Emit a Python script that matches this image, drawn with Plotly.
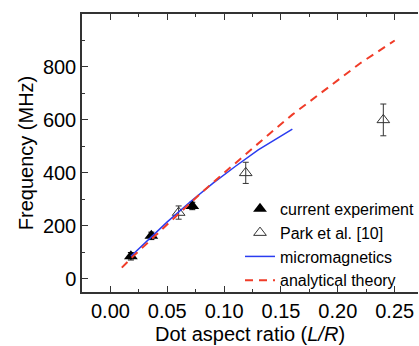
import plotly.graph_objects as go

# data
exp_x = [0.018, 0.036, 0.072]
exp_y = [85, 162, 275]
exp_err = [14, 14, 14]

park_x = [0.060, 0.119, 0.240]
park_y = [250, 400, 600]
park_err = [25, 40, 60]

mm_x = [0.018, 0.03, 0.05, 0.07, 0.09, 0.11, 0.13, 0.16]
mm_y = [85, 135, 215, 290, 360, 425, 487, 565]

th_x = [0.01, 0.02, 0.04, 0.06, 0.08, 0.10, 0.12, 0.14, 0.16, 0.18, 0.20, 0.22, 0.25]
th_y = [42, 85, 165, 245, 325, 400, 475, 548, 620, 685, 750, 815, 900]

xticks = [0.0, 0.05, 0.10, 0.15, 0.20, 0.25]
xticklabels = ["0.00", "0.05", "0.10", "0.15", "0.20", "0.25"]
yticks = [0, 200, 400, 600, 800]

FONT = "Liberation Sans, Arial, sans-serif"

fig = go.Figure()
fig.add_trace(go.Scatter(
    x=exp_x, y=exp_y, mode="markers", name="current experiment",
    marker=dict(symbol="triangle-up", size=12, color="black"),
    error_y=dict(type="data", array=exp_err, color="black", thickness=1, width=3),
))
fig.add_trace(go.Scatter(
    x=park_x, y=park_y, mode="markers", name="Park et al. [10]",
    marker=dict(symbol="triangle-up-open", size=11, color="#333333", line=dict(width=1)),
    error_y=dict(type="data", array=park_err, color="#333333", thickness=1, width=3),
))
fig.add_trace(go.Scatter(
    x=mm_x, y=mm_y, mode="lines", name="micromagnetics",
    line=dict(color="#2a3cf0", width=1.5),
))
fig.add_trace(go.Scatter(
    x=th_x, y=th_y, mode="lines", name="analytical theory",
    line=dict(color="#f03c28", width=2, dash="8px,6px"),
))

fig.update_layout(
    width=419, height=346,
    margin=dict(l=82, r=0, t=14, b=54),
    paper_bgcolor="white", plot_bgcolor="white",
    font=dict(family=FONT, color="black"),
    showlegend=True,
    legend=dict(
        x=0.47, y=0.36, xanchor="left", yanchor="top",
        bgcolor="rgba(0,0,0,0)", font=dict(size=16, family=FONT),
        tracegroupgap=0, itemsizing="trace",
    ),
    xaxis=dict(
        range=[-0.025, 0.2705], tickvals=xticks, ticktext=xticklabels,
        ticks="inside", ticklen=6, tickwidth=1.2, tickcolor="#333",
        minor=dict(dtick=0.025, tick0=0, ticks="inside", ticklen=3, tickcolor="#333"),
        showline=True, linecolor="#333", linewidth=1.5, mirror="ticks",
        showgrid=False, zeroline=False,
        tickfont=dict(size=20),
        title=dict(text="Dot aspect ratio (<i>L/R</i>)", font=dict(size=20), standoff=6),
    ),
    yaxis=dict(
        range=[-50, 1000], tickvals=yticks,
        ticks="inside", ticklen=6, tickwidth=1.2, tickcolor="#333",
        minor=dict(dtick=100, tick0=0, ticks="inside", ticklen=3, tickcolor="#333"),
        showline=True, linecolor="#333", linewidth=1.5, mirror=False,
        showgrid=False, zeroline=False,
        tickfont=dict(size=20),
        title=dict(text="Frequency (MHz)", font=dict(size=20), standoff=4),
    ),
)
fig.write_html("out.html")
